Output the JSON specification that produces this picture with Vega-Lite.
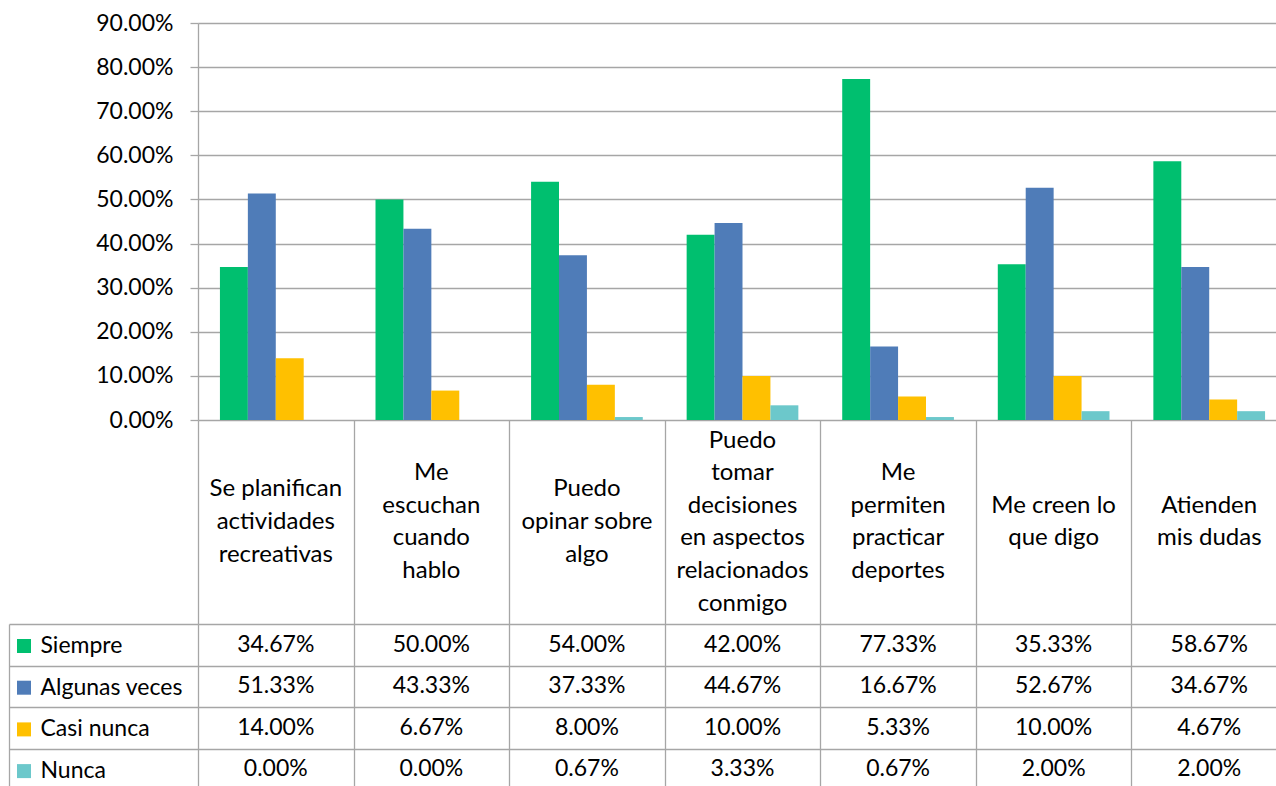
{
  "$schema": "https://vega.github.io/schema/vega-lite/v6.json",
  "padding": {"top": 12, "left": 8, "right": 0, "bottom": 0},
  "background": "white",
  "spacing": 0,
  "bounds": "flush",
  "config": {
    "font": "Lato",
    "view": {"stroke": null},
    "axis": {
      "labelFont": "Lato",
      "labelFontSize": 23,
      "labelColor": "#000000",
      "domainColor": "#A6A6A6",
      "tickColor": "#A6A6A6",
      "gridColor": "#A6A6A6",
      "domainWidth": 1.3,
      "tickWidth": 1.3,
      "gridWidth": 1.3,
      "gridOpacity": 1,
      "title": null
    }
  },
  "datasets": {
    "respuestas": [
      {"categoria": "Se planifican actividades recreativas", "serie": "Siempre", "valor": 0.3467},
      {"categoria": "Se planifican actividades recreativas", "serie": "Algunas veces", "valor": 0.5133},
      {"categoria": "Se planifican actividades recreativas", "serie": "Casi nunca", "valor": 0.14},
      {"categoria": "Se planifican actividades recreativas", "serie": "Nunca", "valor": 0.0},
      {"categoria": "Me escuchan cuando hablo", "serie": "Siempre", "valor": 0.5},
      {"categoria": "Me escuchan cuando hablo", "serie": "Algunas veces", "valor": 0.4333},
      {"categoria": "Me escuchan cuando hablo", "serie": "Casi nunca", "valor": 0.0667},
      {"categoria": "Me escuchan cuando hablo", "serie": "Nunca", "valor": 0.0},
      {"categoria": "Puedo opinar sobre algo", "serie": "Siempre", "valor": 0.54},
      {"categoria": "Puedo opinar sobre algo", "serie": "Algunas veces", "valor": 0.3733},
      {"categoria": "Puedo opinar sobre algo", "serie": "Casi nunca", "valor": 0.08},
      {"categoria": "Puedo opinar sobre algo", "serie": "Nunca", "valor": 0.0067},
      {"categoria": "Puedo tomar decisiones en aspectos relacionados conmigo", "serie": "Siempre", "valor": 0.42},
      {"categoria": "Puedo tomar decisiones en aspectos relacionados conmigo", "serie": "Algunas veces", "valor": 0.4467},
      {"categoria": "Puedo tomar decisiones en aspectos relacionados conmigo", "serie": "Casi nunca", "valor": 0.1},
      {"categoria": "Puedo tomar decisiones en aspectos relacionados conmigo", "serie": "Nunca", "valor": 0.0333},
      {"categoria": "Me permiten practicar deportes", "serie": "Siempre", "valor": 0.7733},
      {"categoria": "Me permiten practicar deportes", "serie": "Algunas veces", "valor": 0.1667},
      {"categoria": "Me permiten practicar deportes", "serie": "Casi nunca", "valor": 0.0533},
      {"categoria": "Me permiten practicar deportes", "serie": "Nunca", "valor": 0.0067},
      {"categoria": "Me creen lo que digo", "serie": "Siempre", "valor": 0.3533},
      {"categoria": "Me creen lo que digo", "serie": "Algunas veces", "valor": 0.5267},
      {"categoria": "Me creen lo que digo", "serie": "Casi nunca", "valor": 0.1},
      {"categoria": "Me creen lo que digo", "serie": "Nunca", "valor": 0.02},
      {"categoria": "Atienden mis dudas", "serie": "Siempre", "valor": 0.5867},
      {"categoria": "Atienden mis dudas", "serie": "Algunas veces", "valor": 0.3467},
      {"categoria": "Atienden mis dudas", "serie": "Casi nunca", "valor": 0.0467},
      {"categoria": "Atienden mis dudas", "serie": "Nunca", "valor": 0.02}
    ],
    "categorias": [
      {"categoria": "Se planifican actividades recreativas", "etiqueta": "Se planifican\nactividades\nrecreativas", "lineas": 3},
      {"categoria": "Me escuchan cuando hablo", "etiqueta": "Me\nescuchan\ncuando\nhablo", "lineas": 4},
      {"categoria": "Puedo opinar sobre algo", "etiqueta": "Puedo\nopinar sobre\nalgo", "lineas": 3},
      {"categoria": "Puedo tomar decisiones en aspectos relacionados conmigo", "etiqueta": "Puedo\ntomar\ndecisiones\nen aspectos\nrelacionados\nconmigo", "lineas": 6},
      {"categoria": "Me permiten practicar deportes", "etiqueta": "Me\npermiten\npracticar\ndeportes", "lineas": 4},
      {"categoria": "Me creen lo que digo", "etiqueta": "Me creen lo\nque digo", "lineas": 2},
      {"categoria": "Atienden mis dudas", "etiqueta": "Atienden\nmis dudas", "lineas": 2}
    ]
  },
  "resolve": {"scale": {"x": "independent", "y": "independent"}},
  "vconcat": [
    {
      "width": 1089,
      "height": 397,
      "data": {"name": "respuestas"},
      "mark": {"type": "bar"},
      "encoding": {
        "x": {
          "field": "categoria",
          "type": "nominal",
          "sort": null,
          "scale": {"paddingInner": 0.282, "paddingOuter": 0.141},
          "axis": null
        },
        "xOffset": {
          "field": "serie",
          "type": "nominal",
          "sort": ["Siempre", "Algunas veces", "Casi nunca", "Nunca"],
          "scale": {"paddingInner": 0, "paddingOuter": 0}
        },
        "y": {
          "field": "valor",
          "type": "quantitative",
          "scale": {"domain": [0, 0.9], "nice": false},
          "axis": {
            "format": ".2%",
            "values": [0, 0.1, 0.2, 0.3, 0.4, 0.5, 0.6, 0.7, 0.8, 0.9],
            "grid": true,
            "domain": true,
            "ticks": true,
            "tickSize": 8,
            "labelPadding": 17
          }
        },
        "color": {
          "field": "serie",
          "type": "nominal",
          "scale": {
            "domain": ["Siempre", "Algunas veces", "Casi nunca", "Nunca"],
            "range": ["#00BF6F", "#4F7CB8", "#FFC000", "#6CC8CB"]
          },
          "legend": {
            "orient": "none",
            "legendX": -185.5,
            "legendY": 611.5,
            "direction": "vertical",
            "title": null,
            "symbolType": "square",
            "symbolSize": 196,
            "symbolStrokeWidth": 0,
            "symbolOpacity": 1,
            "labelFont": "Lato",
            "labelFontSize": 23,
            "labelColor": "#000000",
            "labelOffset": 5,
            "rowPadding": 17.7,
            "padding": 0
          }
        }
      }
    },
    {
      "width": 1089,
      "height": 204,
      "data": {"name": "categorias"},
      "mark": {
        "type": "text",
        "font": "Lato",
        "fontSize": 24,
        "lineBreak": "\n",
        "lineHeight": 32.6,
        "baseline": "middle",
        "align": "center",
        "color": "#000000"
      },
      "encoding": {
        "x": {
          "field": "categoria",
          "type": "nominal",
          "sort": null,
          "scale": {"paddingInner": 0, "paddingOuter": 0},
          "axis": {"grid": true, "tickBand": "extent", "labels": false, "ticks": false, "domain": false}
        },
        "y": {
          "field": "lineas",
          "type": "quantitative",
          "scale": {"domain": [-5.258, 7.258], "zero": false, "nice": false},
          "axis": null
        },
        "text": {"field": "etiqueta", "type": "nominal"}
      }
    },
    {
      "width": 1089,
      "height": 166,
      "data": {"name": "respuestas"},
      "mark": {
        "type": "text",
        "font": "Lato",
        "fontSize": 23,
        "baseline": "middle",
        "align": "center",
        "color": "#000000"
      },
      "encoding": {
        "x": {
          "field": "categoria",
          "type": "nominal",
          "sort": null,
          "scale": {"paddingInner": 0, "paddingOuter": 0},
          "axis": {"grid": true, "tickBand": "extent", "labels": false, "ticks": false, "domain": false}
        },
        "y": {
          "field": "serie",
          "type": "nominal",
          "sort": ["Siempre", "Algunas veces", "Casi nunca", "Nunca"],
          "scale": {"paddingInner": 0, "paddingOuter": 0},
          "axis": {
            "grid": true,
            "tickBand": "extent",
            "labels": false,
            "ticks": true,
            "tickSize": -189,
            "offset": 189,
            "domain": true
          }
        },
        "text": {"field": "valor", "type": "quantitative", "format": ".2%"}
      }
    }
  ]
}
